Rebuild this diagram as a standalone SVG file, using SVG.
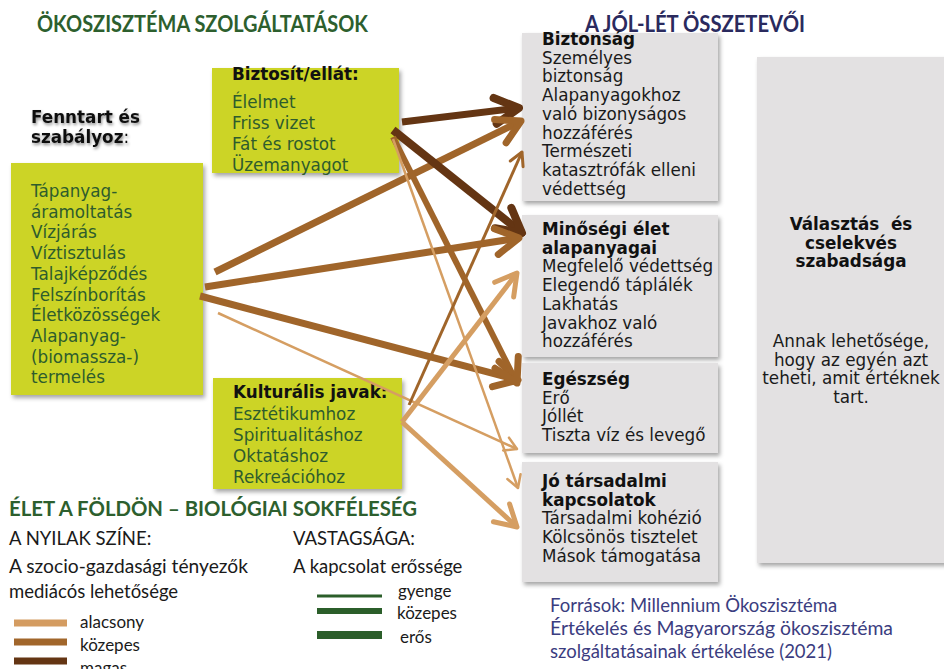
<svg xmlns="http://www.w3.org/2000/svg" width="944" height="669" viewBox="0 0 944 669">
<defs>
<style>
.box{font-family:"DejaVu Sans",Verdana,sans-serif;font-size:16.8px;}
.gtxt{fill:#2e5c2d;}
.ktxt{fill:#1a1a1a;}
.b{font-weight:bold;fill:#111;}
.green{fill:#ccd425;filter:url(#sh);}
.grey{fill:#e3e1e2;filter:url(#sh);}
.cal{font-family:Lato,"Liberation Sans",sans-serif;}
.ttl{font-weight:bold;font-size:22px;}
.leg{font-size:18.5px;fill:#1a1a1a;}
.legs{font-size:17px;fill:#1a1a1a;}
.src{font-size:18.5px;fill:#3b3d80;}
.pre{white-space:pre;}
.dark{stroke:#643513;fill:none;}
.med{stroke:#a0652a;fill:none;}
.light{stroke:#d59e62;fill:none;}
</style>
<filter id="sh" x="-10%" y="-10%" width="130%" height="130%">
<feDropShadow dx="2" dy="3" stdDeviation="2" flood-color="#000" flood-opacity="0.35"/>
</filter>
<filter id="tsh" x="-10%" y="-20%" width="130%" height="160%">
<feDropShadow dx="1" dy="2" stdDeviation="1.5" flood-color="#000" flood-opacity="0.45"/>
</filter>
<marker id="hDark" markerUnits="userSpaceOnUse" orient="auto" viewBox="-36 -20 40 40" markerWidth="40" markerHeight="40" refX="0" refY="0">
<path d="M-24,-13 L0,0 L-24,13" fill="none" stroke="#643513" stroke-width="8" stroke-linecap="round" stroke-linejoin="round"/>
</marker>
<marker id="hMed" markerUnits="userSpaceOnUse" orient="auto" viewBox="-36 -20 40 40" markerWidth="40" markerHeight="40" refX="0" refY="0">
<path d="M-23,-13 L0,0 L-23,13" fill="none" stroke="#a0652a" stroke-width="7" stroke-linecap="round" stroke-linejoin="round"/>
</marker>
<marker id="hMedThin" markerUnits="userSpaceOnUse" orient="auto" viewBox="-36 -20 40 40" markerWidth="40" markerHeight="40" refX="0" refY="0">
<path d="M-13,-7 L0,0 L-13,7" fill="none" stroke="#a0652a" stroke-width="3" stroke-linecap="round" stroke-linejoin="round"/>
</marker>
<marker id="hLight" markerUnits="userSpaceOnUse" orient="auto" viewBox="-36 -20 40 40" markerWidth="40" markerHeight="40" refX="0" refY="0">
<path d="M-21,-12 L0,0 L-21,12" fill="none" stroke="#d59e62" stroke-width="5" stroke-linecap="round" stroke-linejoin="round"/>
</marker>
<marker id="hLightThin" markerUnits="userSpaceOnUse" orient="auto" viewBox="-36 -20 40 40" markerWidth="40" markerHeight="40" refX="0" refY="0">
<path d="M-12,-7 L0,0 L-12,7" fill="none" stroke="#d59e62" stroke-width="2.5" stroke-linecap="round" stroke-linejoin="round"/>
</marker>
</defs>
<rect width="944" height="669" fill="#ffffff"/>

<g id="title-ecosystem">
<text class="cal ttl" x="37" y="32" fill="#2d5f2e" textLength="331" lengthAdjust="spacingAndGlyphs">ÖKOSZISZTÉMA SZOLGÁLTATÁSOK</text>
</g>
<g id="title-wellbeing">
<text class="cal ttl" x="585" y="32" fill="#2a2a5e" textLength="220" lengthAdjust="spacingAndGlyphs">A JÓL-LÉT ÖSSZETEVŐI</text>
</g>

<g id="n-fenntart-label" class="box" filter="url(#tsh)">
<text class="b" x="31" y="123">Fenntart és</text>
<text x="31" y="143"><tspan class="b">szabályoz</tspan><tspan fill="#111">:</tspan></text>
</g>

<g id="n-fenntart" class="box">
<rect class="green" x="11" y="163" width="192" height="232"/>
<g class="gtxt">
<text x="31" y="197">Tápanyag-</text>
<text x="31" y="217.7">áramoltatás</text>
<text x="31" y="238.4">Vízjárás</text>
<text x="31" y="259.1">Víztisztulás</text>
<text x="31" y="279.8">Talajképződés</text>
<text x="31" y="300.5">Felszínborítás</text>
<text x="31" y="321.2">Életközösségek</text>
<text x="31" y="341.9">Alapanyag-</text>
<text x="31" y="362.6">(biomassza-)</text>
<text x="31" y="383.3">termelés</text>
</g>
</g>

<g id="n-biztosit" class="box">
<rect class="green" x="212" y="68" width="187" height="105"/>
<text class="b" x="232" y="80">Biztosít/ellát:</text>
<g class="gtxt">
<text x="232" y="108">Élelmet</text>
<text x="232" y="129">Friss vizet</text>
<text x="232" y="150">Fát és rostot</text>
<text x="232" y="171">Üzemanyagot</text>
</g>
</g>

<g id="n-kulturalis" class="box">
<rect class="green" x="213" y="378" width="189" height="111"/>
<text class="b" x="233" y="398">Kulturális javak:</text>
<g class="gtxt">
<text x="233" y="419.5">Esztétikumhoz</text>
<text x="233" y="440.5">Spiritualitáshoz</text>
<text x="233" y="461.5">Oktatáshoz</text>
<text x="233" y="482.5">Rekreációhoz</text>
</g>
</g>

<g id="n-biztonsag" class="box">
<rect class="grey" x="522" y="33" width="196" height="168"/>
<text class="b" x="542" y="45">Biztonság</text>
<g class="ktxt">
<text x="542" y="63.7">Személyes</text>
<text x="542" y="82.4">biztonság</text>
<text x="542" y="101.1">Alapanyagokhoz</text>
<text x="542" y="119.8">való bizonyságos</text>
<text x="542" y="138.5">hozzáférés</text>
<text x="542" y="157.2">Természeti</text>
<text x="542" y="175.9">katasztrófák elleni</text>
<text x="542" y="194.6">védettség</text>
</g>
</g>

<g id="n-minosegi" class="box">
<rect class="grey" x="522" y="215" width="196" height="142"/>
<text class="b" x="542" y="235">Minőségi élet</text>
<text class="b" x="542" y="253.7">alapanyagai</text>
<g class="ktxt">
<text x="542" y="272.4">Megfelelő védettség</text>
<text x="542" y="291.1">Elegendő táplálék</text>
<text x="542" y="309.8">Lakhatás</text>
<text x="542" y="328.5">Javakhoz való</text>
<text x="542" y="347.2">hozzáférés</text>
</g>
</g>

<g id="n-egeszseg" class="box">
<rect class="grey" x="522" y="363" width="196" height="90"/>
<text class="b" x="542" y="385">Egészség</text>
<g class="ktxt">
<text x="542" y="403.7">Erő</text>
<text x="542" y="422.4">Jóllét</text>
<text x="542" y="441.1">Tiszta víz és levegő</text>
</g>
</g>

<g id="n-tarsadalmi" class="box">
<rect class="grey" x="522" y="462" width="196" height="120"/>
<text class="b" x="542" y="487">Jó társadalmi</text>
<text class="b" x="542" y="505.7">kapcsolatok</text>
<g class="ktxt">
<text x="542" y="524.4">Társadalmi kohézió</text>
<text x="542" y="543.1">Kölcsönös tisztelet</text>
<text x="542" y="561.8">Mások támogatása</text>
</g>
</g>

<g id="n-valasztas" class="box" text-anchor="middle">
<rect class="grey" x="757" y="57" width="190" height="506"/>
<text class="b pre" x="851" y="230">Választás  és</text>
<text class="b" x="851" y="248.5">cselekvés</text>
<text class="b" x="851" y="267">szabadsága</text>
<g class="ktxt">
<text x="851" y="347">Annak lehetősége,</text>
<text x="851" y="365.5">hogy az egyén azt</text>
<text x="851" y="384">teheti, amit értéknek</text>
<text x="851" y="402.5">tart.</text>
</g>
</g>

<g id="connectors" stroke-linecap="butt">
<line class="dark" x1="402" y1="122" x2="519" y2="108" stroke-width="7" marker-end="url(#hDark)"/>
<line class="med" x1="215" y1="272" x2="521" y2="121" stroke-width="7" marker-end="url(#hMed)"/>
<line class="dark" x1="393" y1="130" x2="522" y2="233" stroke-width="8" marker-end="url(#hDark)"/>
<line class="med" x1="205" y1="287" x2="519" y2="238" stroke-width="7" marker-end="url(#hMed)"/>
<line class="med" x1="200" y1="296" x2="518" y2="380" stroke-width="7" marker-end="url(#hMed)"/>
<line class="light" x1="218" y1="313" x2="517" y2="449" stroke-width="2.5" marker-end="url(#hLightThin)"/>
<line class="med" x1="393" y1="137" x2="517" y2="383" stroke-width="6" marker-end="url(#hMed)"/>
<line class="light" x1="393" y1="139" x2="518" y2="488" stroke-width="2.5" marker-end="url(#hLightThin)"/>
<line class="med" x1="409" y1="405" x2="522" y2="152" stroke-width="3" marker-end="url(#hMedThin)"/>
<line class="light" x1="402" y1="422" x2="517" y2="273" stroke-width="5" marker-end="url(#hLight)"/>
<line class="light" x1="402" y1="422" x2="517" y2="527" stroke-width="5" marker-end="url(#hLight)"/>
</g>

<g id="title-biodiversity">
<text class="cal" x="9" y="516" font-size="21px" font-weight="bold" fill="#2d5f2e" textLength="408" lengthAdjust="spacingAndGlyphs">ÉLET A FÖLDÖN – BIOLÓGIAI SOKFÉLESÉG</text>
</g>

<g id="legend-color" class="cal">
<text class="leg" x="9" y="545">A NYILAK SZÍNE:</text>
<text class="leg" x="9" y="573" textLength="239" lengthAdjust="spacingAndGlyphs">A szocio-gazdasági tényezők</text>
<text class="leg" x="9" y="598">mediácós lehetősége</text>
<rect x="14" y="619.5" width="53" height="7" fill="#d49c61"/>
<text class="legs" x="80" y="628">alacsony</text>
<rect x="14" y="638.5" width="53" height="7" fill="#a1662b"/>
<text class="legs" x="80" y="651">közepes</text>
<rect x="14" y="657.5" width="53" height="7" fill="#643513"/>
<text class="legs" x="80" y="674">magas</text>
</g>

<g id="legend-width" class="cal">
<text class="leg" x="293" y="545">VASTAGSÁGA:</text>
<text class="leg" x="293" y="573">A kapcsolat erőssége</text>
<line x1="317" y1="596" x2="382" y2="596" stroke="#2b5e2a" stroke-width="3"/>
<text class="legs" x="398" y="597">gyenge</text>
<line x1="317" y1="611" x2="382" y2="611" stroke="#2b5e2a" stroke-width="6"/>
<text class="legs" x="397" y="619">közepes</text>
<line x1="317" y1="635" x2="382" y2="635" stroke="#2b5e2a" stroke-width="8"/>
<text class="legs" x="400" y="643">erős</text>
</g>

<g id="sources" class="cal">
<text class="src" x="550" y="612">Források: Millennium Ökoszisztéma</text>
<text class="src" x="550" y="635" textLength="343" lengthAdjust="spacingAndGlyphs">Értékelés és Magyarország ökoszisztéma</text>
<text class="src" x="550" y="658">szolgáltatásainak értékelése (2021)</text>
</g>
</svg>
